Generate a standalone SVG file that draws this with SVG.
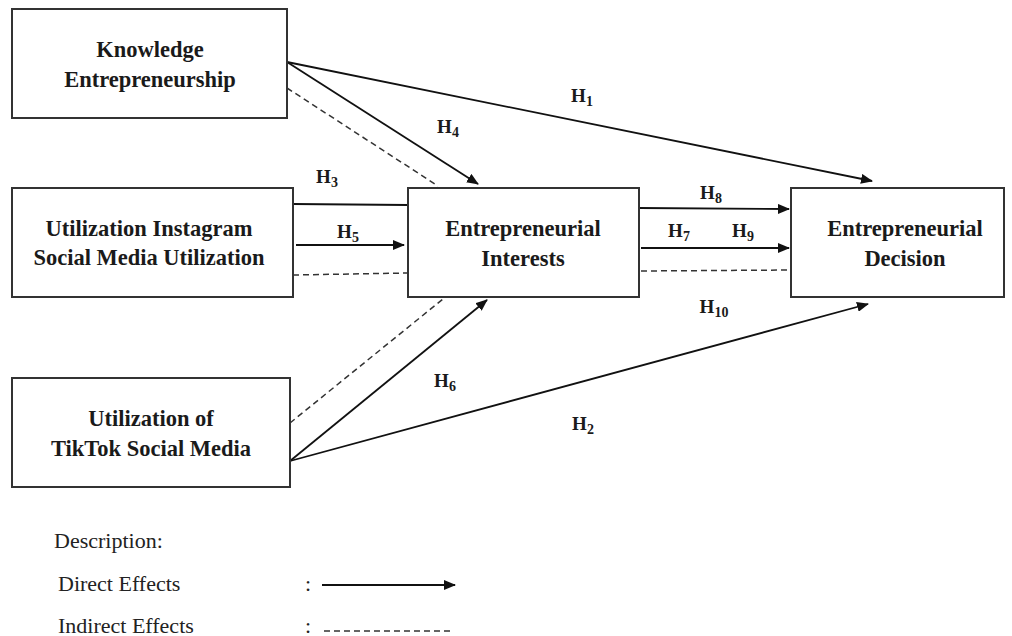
<svg xmlns="http://www.w3.org/2000/svg" width="1012" height="636" viewBox="0 0 1012 636">
<style>
.box{fill:#fff;stroke:#333;stroke-width:2}
.nt{font-family:"Liberation Serif","Times New Roman",serif;font-weight:bold;font-size:22.5px;fill:#1a1a1a;text-anchor:middle}
.h{font-family:"Liberation Serif","Times New Roman",serif;font-weight:bold;font-size:19px;fill:#1a1a1a;text-anchor:middle}
.sub{font-size:14px}
.solid{stroke:#111;stroke-width:1.8;fill:none}
.dash{stroke:#333;stroke-width:1.5;stroke-dasharray:6 4;fill:none}
.lg{font-family:"Liberation Serif","Times New Roman",serif;font-size:22px;fill:#222}
</style>
<defs>
<marker id="arr" viewBox="0 0 12 10" refX="11" refY="5" markerWidth="12" markerHeight="10" markerUnits="userSpaceOnUse" orient="auto">
<path d="M0,0 L12,5 L0,10 Z" fill="#111"/>
</marker>
</defs>
<rect width="1012" height="636" fill="#fff"/>

<g id="connectors">
<line class="solid" x1="287" y1="62" x2="872" y2="181" marker-end="url(#arr)"/>
<line class="solid" x1="287" y1="62" x2="478" y2="184" marker-end="url(#arr)"/>
<line class="dash" x1="287" y1="88" x2="438" y2="186"/>
<line class="solid" x1="293" y1="204" x2="408" y2="205"/>
<line class="solid" x1="296" y1="245" x2="404" y2="245" marker-end="url(#arr)"/>
<line class="dash" x1="293" y1="275" x2="408" y2="273"/>
<line class="solid" x1="639" y1="208" x2="789" y2="209" marker-end="url(#arr)"/>
<line class="solid" x1="641" y1="248" x2="789" y2="248" marker-end="url(#arr)"/>
<line class="dash" x1="641" y1="271" x2="791" y2="270"/>
<line class="solid" x1="290" y1="461" x2="487" y2="300" marker-end="url(#arr)"/>
<line class="solid" x1="290" y1="461" x2="868" y2="304" marker-end="url(#arr)"/>
<line class="dash" x1="290" y1="423" x2="443" y2="299"/>
</g>

<g id="labels">
<text class="h" x="582" y="102">H<tspan class="sub" dy="4">1</tspan></text>
<text class="h" x="448" y="133">H<tspan class="sub" dy="4">4</tspan></text>
<text class="h" x="327" y="183">H<tspan class="sub" dy="4">3</tspan></text>
<text class="h" x="348" y="238">H<tspan class="sub" dy="4">5</tspan></text>
<text class="h" x="711" y="199">H<tspan class="sub" dy="4">8</tspan></text>
<text class="h" x="679" y="237">H<tspan class="sub" dy="4">7</tspan></text>
<text class="h" x="743" y="237">H<tspan class="sub" dy="4">9</tspan></text>
<text class="h" x="714" y="313">H<tspan class="sub" dy="4">10</tspan></text>
<text class="h" x="445" y="387">H<tspan class="sub" dy="4">6</tspan></text>
<text class="h" x="583" y="430">H<tspan class="sub" dy="4">2</tspan></text>
</g>

<g id="knowledge">
<rect class="box" x="12" y="9" width="275" height="109"/>
<text class="nt" x="150" y="57">Knowledge</text>
<text class="nt" x="150" y="87">Entrepreneurship</text>
</g>
<g id="instagram">
<rect class="box" x="12" y="188" width="281" height="109"/>
<text class="nt" x="149" y="236">Utilization Instagram</text>
<text class="nt" x="149" y="265">Social Media Utilization</text>
</g>
<g id="interests">
<rect class="box" x="408" y="188" width="231" height="109"/>
<text class="nt" x="523" y="236">Entrepreneurial</text>
<text class="nt" x="523" y="266">Interests</text>
</g>
<g id="decision">
<rect class="box" x="791" y="188" width="213" height="109"/>
<text class="nt" x="905" y="236">Entrepreneurial</text>
<text class="nt" x="905" y="266">Decision</text>
</g>
<g id="tiktok">
<rect class="box" x="12" y="378" width="278" height="109"/>
<text class="nt" x="151" y="426">Utilization of</text>
<text class="nt" x="151" y="456">TikTok Social Media</text>
</g>

<g id="legend">
<text class="lg" x="54" y="548">Description:</text>
<text class="lg" x="58" y="591">Direct Effects</text>
<text class="lg" x="58" y="633">Indirect Effects</text>
<text class="lg" x="305" y="591">:</text>
<text class="lg" x="305" y="633">:</text>
<line class="solid" x1="322" y1="585" x2="455" y2="585" marker-end="url(#arr)"/>
<line class="dash" x1="324" y1="631" x2="450" y2="631"/>
</g>
</svg>
